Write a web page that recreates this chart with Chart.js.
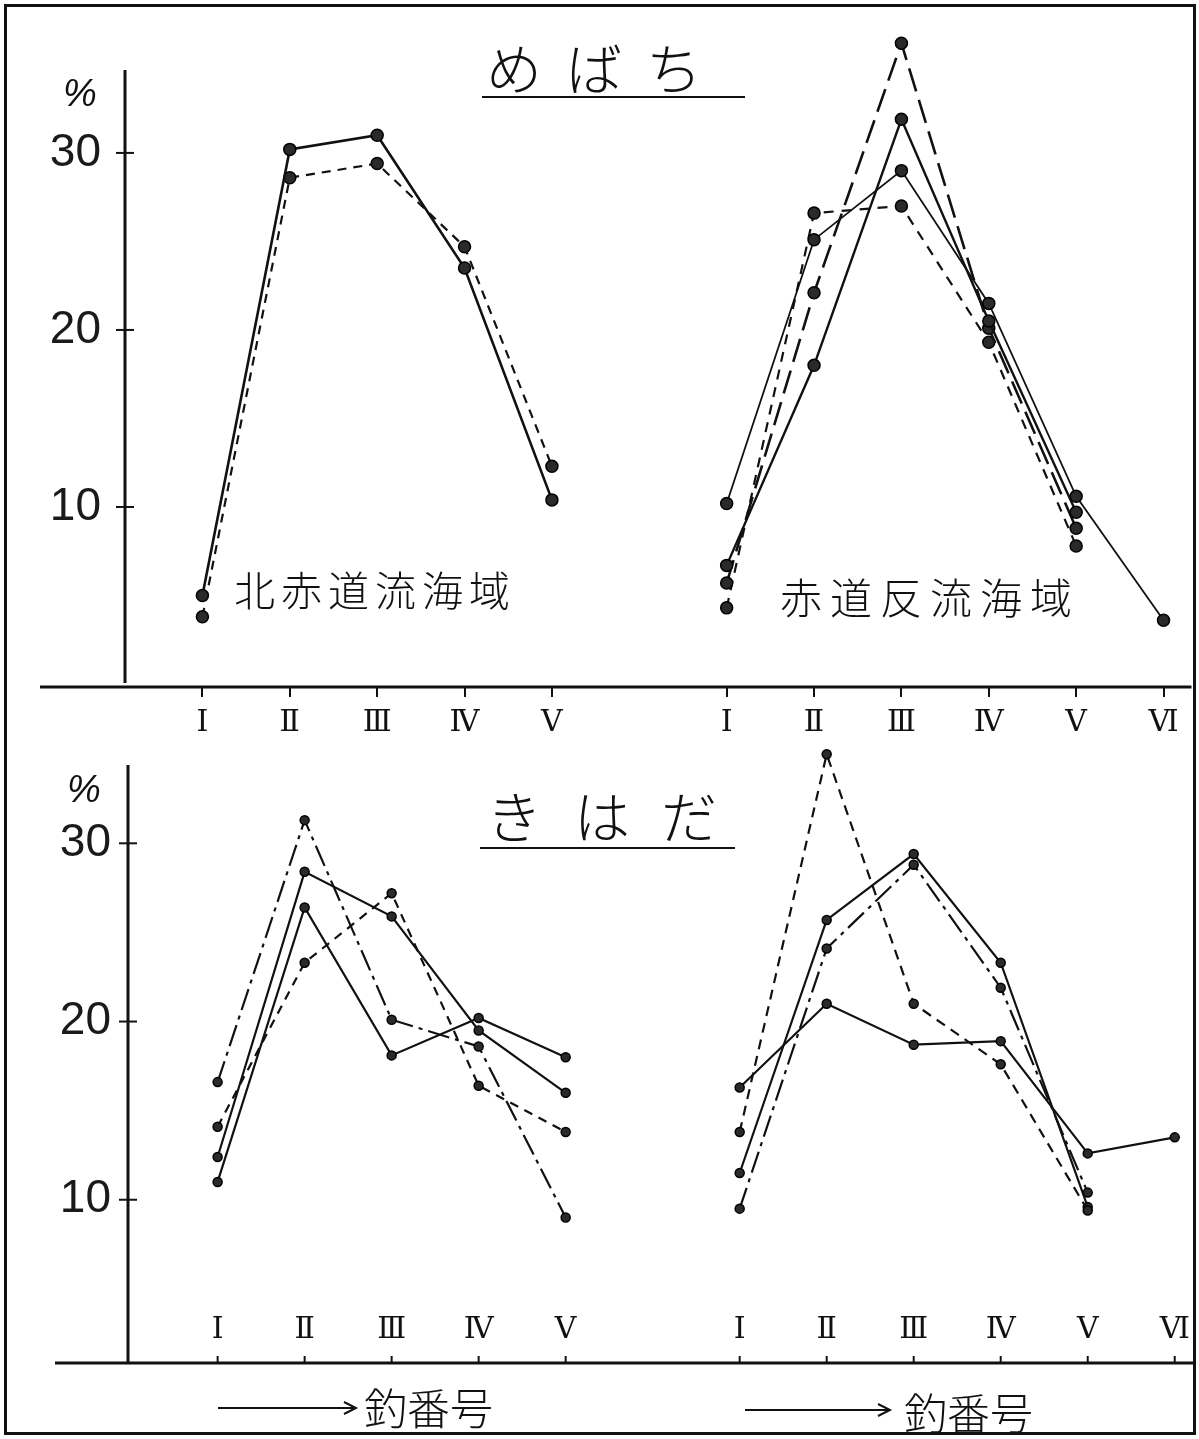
<!DOCTYPE html>
<html lang="ja">
<head>
<meta charset="utf-8">
<script src="https://cdn.jsdelivr.net/npm/chart.js@4.4.1/dist/chart.umd.min.js"></script>
<style>
html,body{margin:0;padding:0;background:#fff;}
#page{position:relative;width:1199px;height:1439px;overflow:hidden;background:#fff;}
#frame{position:absolute;left:4px;top:4px;width:1186px;height:1425px;border:3px solid #111;}
canvas{position:absolute;left:0;}
.t{position:absolute;font-family:"Noto Sans CJK JP";color:#111;white-space:nowrap;line-height:1;font-weight:300;}
.ul{position:absolute;height:2px;background:#111;}
.pct{position:absolute;font-family:"Liberation Sans";font-size:38px;color:#111;line-height:1;font-style:italic;}
svg{position:absolute;left:0;top:0;}
</style>
</head>
<body>
<div id="page">
  <div id="frame"></div>
  <canvas id="topChart" width="1199" height="760" style="top:0px"></canvas>
  <canvas id="botChart" width="1199" height="699" style="top:740px"></canvas>

  <div class="t" style="left:486px;top:38px;font-size:56px;letter-spacing:24px;">めばち</div>
  <div class="ul" style="left:482px;top:96px;width:263px;"></div>
  <div class="t" style="left:486px;top:786px;font-size:56px;letter-spacing:32px;">きはだ</div>
  <div class="ul" style="left:480px;top:847px;width:255px;"></div>

  <div class="t" style="left:234px;top:568px;font-size:41px;letter-spacing:6px;">北赤道流海域</div>
  <div class="t" style="left:780px;top:575px;font-size:42px;letter-spacing:8px;">赤道反流海域</div>

  <div class="pct" style="left:63px;top:74px;">%</div>
  <div class="pct" style="left:67px;top:770px;">%</div>

  <svg width="1199" height="1439">
    <line x1="218" y1="1408" x2="354" y2="1408" stroke="#111" stroke-width="2"/>
    <path d="M344 1402 L356 1408 L344 1414" fill="none" stroke="#111" stroke-width="2"/>
    <line x1="745" y1="1410" x2="888" y2="1410" stroke="#111" stroke-width="2"/>
    <path d="M878 1404 L890 1410 L878 1416" fill="none" stroke="#111" stroke-width="2"/>
  </svg>
  <div class="t" style="left:364px;top:1385px;font-size:43px;">釣番号</div>
  <div class="t" style="left:904px;top:1390px;font-size:43px;">釣番号</div>
</div>

<script>
// ---- categories (釣番号) ----
const northCats = ['Ⅰ','Ⅱ','Ⅲ','Ⅳ','Ⅴ'];
const counterCats = ['Ⅰ','Ⅱ','Ⅲ','Ⅳ','Ⅴ','Ⅵ'];
const yTickValues = [10, 20, 30];

// ---- めばち : 北赤道流海域 (%) ----
const mebachiNorthSolid  = [5.0, 30.2, 31.0, 23.5, 10.4];
const mebachiNorthDashed = [3.8, 28.6, 29.4, 24.7, 12.3];
// ---- めばち : 赤道反流海域 (%) ----
const mebachiCounter1 = [10.2, 25.1, 29.0, 21.5, 10.6, 3.6];
const mebachiCounter2 = [6.7, 18.0, 31.9, 20.5, 9.7];
const mebachiCounter3 = [5.7, 22.1, 36.2, 20.1, 8.8];
const mebachiCounter4 = [4.3, 26.6, 27.0, 19.3, 7.8];

// ---- きはだ : 北赤道流海域 (%) ----
const kihadaNorthA = [16.6, 31.3, 20.1, 18.6, 9.0];
const kihadaNorthB = [12.4, 28.4, 25.9, 19.5, 16.0];
const kihadaNorthC = [11.0, 26.4, 18.1, 20.2, 18.0];
const kihadaNorthD = [14.1, 23.3, 27.2, 16.4, 13.8];
// ---- きはだ : 赤道反流海域 (%) ----
const kihadaCounterE = [13.8, 35.0, 21.0, 17.6, 9.4];
const kihadaCounterF = [16.3, 21.0, 18.7, 18.9, 12.6, 13.5];
const kihadaCounterG = [11.5, 25.7, 29.4, 23.3, 9.6];
const kihadaCounterH = [9.5, 24.1, 28.8, 21.9, 10.4];

// second group starts after one empty slot
const COUNTER_START = northCats.length + 1;
const ROMAN_FONT = "'DejaVu Serif', 'Liberation Serif', serif";

function pts(vals, start) { return vals.map((v, i) => ({ x: start + i, y: v })); }
const xTickValues = northCats.map((c, i) => i).concat(counterCats.map((c, i) => COUNTER_START + i));
function xLabel(v) {
  if (v < northCats.length) return northCats[v];
  return counterCats[v - COUNTER_START] || '';
}

function ds(vals, start, dash, width, radius) {
  return {
    data: pts(vals, start),
    borderColor: '#111', borderWidth: width, borderDash: dash,
    pointRadius: radius, pointHoverRadius: radius,
    pointBackgroundColor: '#2a2a2a', pointBorderColor: '#000', pointBorderWidth: 1.5,
    tension: 0, fill: false, clip: false
  };
}

const extras = {
  id: 'extras',
  beforeDatasetsDraw(chart, args, opts) {
    const { ctx, chartArea: a, scales: { x, y } } = chart;
    ctx.save();
    ctx.strokeStyle = '#111';
    ctx.lineWidth = 3;
    // baseline (extends left of the vertical axis)
    ctx.beginPath(); ctx.moveTo(opts.axisFrom, a.bottom); ctx.lineTo(a.right, a.bottom); ctx.stroke();
    // vertical axis
    ctx.beginPath(); ctx.moveTo(a.left, opts.axisTop); ctx.lineTo(a.left, a.bottom + (opts.upTicks ? 1 : -4)); ctx.stroke();
    ctx.lineWidth = 2;
    y.ticks.forEach(t => {
      const py = y.getPixelForValue(t.value);
      ctx.beginPath(); ctx.moveTo(a.left - 9, py); ctx.lineTo(a.left + 9, py); ctx.stroke();
    });
    if (opts.upTicks) {
      ctx.fillStyle = '#111';
      ctx.font = '30px ' + ROMAN_FONT;
      ctx.textAlign = 'center';
      ctx.textBaseline = 'middle';
      x.ticks.forEach(t => {
        const px = x.getPixelForValue(t.value);
        ctx.beginPath(); ctx.moveTo(px, a.bottom); ctx.lineTo(px, a.bottom - 7); ctx.stroke();
        ctx.fillText(xLabel(t.value), px, a.bottom - 33);
      });
    }
    ctx.restore();
  }
};

function makeChart(id, datasets, cfg) {
  return new Chart(document.getElementById(id), {
    type: 'line',
    data: { datasets },
    plugins: [extras],
    options: {
      responsive: false, animation: false, devicePixelRatio: 1,
      layout: { padding: { top: cfg.padTop, right: 0, left: 0, bottom: 0 } },
      plugins: { legend: { display: false }, tooltip: { enabled: false },
                 extras: { axisFrom: cfg.axisFrom, axisTop: cfg.axisTop, upTicks: cfg.upTicks } },
      scales: {
        x: {
          type: 'linear', min: cfg.xMin, max: cfg.xMax,
          afterBuildTicks: s => { s.ticks = xTickValues.map(v => ({ value: v })); },
          afterFit: s => { s.height = cfg.xHeight; s.paddingLeft = 0; s.paddingRight = 0; },
          border: { display: false },
          grid: { display: cfg.downTicks, drawOnChartArea: false, drawTicks: cfg.downTicks, tickLength: 10, color: '#111', lineWidth: 2 },
          ticks: { display: cfg.downTicks, autoSkip: false, maxRotation: 0, padding: cfg.xPad, color: '#111',
                   font: { family: ROMAN_FONT, size: 30 }, callback: v => xLabel(v) }
        },
        y: {
          type: 'linear', min: cfg.yMin, max: cfg.yMax,
          afterBuildTicks: s => { s.ticks = yTickValues.map(v => ({ value: v })); },
          afterFit: s => { s.width = cfg.yWidth; s.paddingTop = 0; s.paddingBottom = 0; },
          border: { display: false },
          grid: { display: false, drawTicks: false },
          ticks: { padding: cfg.yPad, color: '#1a1a1a',
                   font: { family: "'Liberation Sans Narrow', 'Liberation Sans', sans-serif", size: 46 } }
        }
      }
    }
  });
}

makeChart('topChart', [
  ds(mebachiNorthSolid, 0, [], 2.6, 6),
  ds(mebachiNorthDashed, 0, [9, 7], 2.2, 6),
  ds(mebachiCounter1, COUNTER_START, [], 1.8, 6),
  ds(mebachiCounter2, COUNTER_START, [], 2.4, 6),
  ds(mebachiCounter3, COUNTER_START, [24, 9], 2.6, 6),
  ds(mebachiCounter4, COUNTER_START, [10, 8], 2.2, 6)
], { padTop: 26, xHeight: 73, yWidth: 125, xMin: -0.886, xMax: 11.32, yMin: -0.17, yMax: 37.17,
     xPad: 8, yPad: 24, axisFrom: 40, axisTop: 70, upTicks: false, downTicks: true });

makeChart('botChart', [
  ds(kihadaNorthA, 0, [22, 6, 4, 6], 2.2, 4.5),
  ds(kihadaNorthB, 0, [], 2.2, 4.5),
  ds(kihadaNorthC, 0, [], 2.2, 4.5),
  ds(kihadaNorthD, 0, [9, 7], 2.2, 4.5),
  ds(kihadaCounterE, COUNTER_START, [10, 7], 2.2, 4.5),
  ds(kihadaCounterF, COUNTER_START, [], 2.2, 4.5),
  ds(kihadaCounterG, COUNTER_START, [], 2.2, 4.5),
  ds(kihadaCounterH, COUNTER_START, [22, 6, 4, 6], 2.2, 4.5)
], { padTop: 5, xHeight: 76, yWidth: 128, xMin: -1.03, xMax: 11.21, yMin: 0.84, yMax: 35.46,
     xPad: 8, yPad: 17, axisFrom: 55, axisTop: 25, upTicks: true, downTicks: false });
</script>
</body>
</html>
